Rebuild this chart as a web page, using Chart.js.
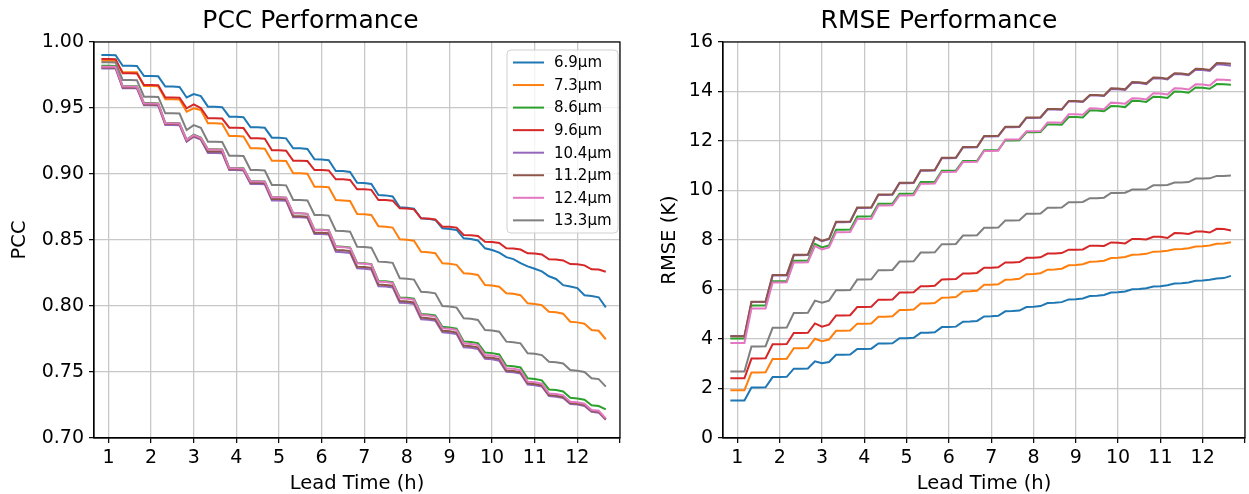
<!DOCTYPE html>
<html>
<head>
<meta charset="utf-8">
<script src="https://cdn.jsdelivr.net/npm/chart.js@4.4.0/dist/chart.umd.min.js"></script>
<style>
  html, body { margin:0; padding:0; background:#fff; overflow:hidden; }
  #pcc { position:absolute; left:0; top:0; }
  #rmse { position:absolute; left:629px; top:0; }
</style>
</head>
<body>
<canvas id="pcc" width="624" height="494"></canvas>
<canvas id="rmse" width="620" height="494"></canvas>
<script>
// lead time of every sample, in minutes
const leadMinutes = [50,60,70,80,90,100,110,120,130,140,150,160,170,180,190,200,210,220,230,240,250,260,270,280,
  290,300,310,320,330,340,350,360,370,380,390,400,410,420,430,440,450,460,470,480,490,500,510,520,
  530,540,550,560,570,580,590,600,610,620,630,640,650,660,670,680,690,700,710,720,730,740,750,760];

const bandLabels = ["6.9µm","7.3µm","8.6µm","9.6µm","10.4µm","11.2µm","12.4µm","13.3µm"];
const bandColors = ["#1f77b4","#ff7f0e","#2ca02c","#d62728","#9467bd","#8c564b","#e377c2","#7f7f7f"];

// PCC per band
const pcc69 = [.9902,.9902,.9900,.9820,.9820,.9818,.9742,.9742,.9740,.9662,.9662,.9660,.9580,.9606,.9590,.9510,.9510,.9506,
  .9434,.9434,.9430,.9354,.9354,.9350,.9275,.9275,.9270,.9195,.9195,.9190,.9111,.9110,.9105,.9023,.9022,.9015,
  .8934,.8932,.8925,.8841,.8838,.8830,.8748,.8745,.8738,.8664,.8660,.8652,.8589,.8584,.8576,.8513,.8507,.8497,
  .8437,.8424,.8405,.8370,.8355,.8325,.8300,.8282,.8262,.8225,.8205,.8158,.8148,.8136,.8082,.8076,.8066,.7990];
const pcc73 = [.9858,.9858,.9857,.9771,.9771,.9770,.9667,.9667,.9665,.9566,.9566,.9564,.9472,.9498,.9485,.9384,.9384,.9381,
  .9288,.9288,.9285,.9195,.9195,.9192,.9101,.9101,.9098,.9005,.9005,.9002,.8904,.8904,.8900,.8803,.8800,.8795,
  .8697,.8695,.8690,.8604,.8600,.8594,.8505,.8502,.8495,.8411,.8408,.8400,.8323,.8320,.8312,.8248,.8244,.8235,
  .8159,.8155,.8146,.8096,.8092,.8082,.8020,.8016,.8006,.7957,.7952,.7942,.7881,.7876,.7866,.7818,.7812,.7748];
const pcc86 = [.9820,.9820,.9819,.9665,.9665,.9664,.9537,.9537,.9535,.9387,.9387,.9385,.9261,.9298,.9276,.9187,.9187,.9185,
  .9046,.9046,.9043,.8946,.8946,.8943,.8823,.8823,.8820,.8702,.8702,.8698,.8578,.8578,.8574,.8452,.8449,.8443,
  .8326,.8323,.8317,.8190,.8187,.8181,.8065,.8062,.8055,.7940,.7936,.7928,.7842,.7838,.7829,.7732,.7728,.7719,
  .7647,.7643,.7633,.7548,.7544,.7534,.7452,.7447,.7437,.7368,.7363,.7353,.7305,.7300,.7290,.7248,.7242,.7217];
const pcc96 = [.9871,.9871,.9870,.9763,.9763,.9762,.9674,.9674,.9672,.9580,.9580,.9578,.9498,.9528,.9500,.9422,.9422,.9420,
  .9351,.9351,.9348,.9270,.9270,.9267,.9180,.9180,.9177,.9101,.9101,.9098,.9030,.9030,.9027,.8960,.8960,.8955,
  .8884,.8884,.8880,.8803,.8803,.8798,.8740,.8738,.8732,.8664,.8662,.8656,.8601,.8600,.8594,.8538,.8536,.8530,
  .8487,.8485,.8478,.8437,.8435,.8428,.8399,.8397,.8390,.8354,.8352,.8345,.8318,.8316,.8308,.8278,.8276,.8260];
const pcc104 = [.9800,.9800,.9799,.9650,.9650,.9649,.9520,.9520,.9518,.9372,.9372,.9370,.9245,.9282,.9260,.9160,.9160,.9158,
  .9030,.9030,.9027,.8925,.8925,.8922,.8800,.8800,.8797,.8672,.8672,.8668,.8545,.8545,.8541,.8411,.8408,.8402,
  .8285,.8282,.8276,.8150,.8147,.8141,.8025,.8022,.8015,.7900,.7896,.7888,.7800,.7796,.7787,.7688,.7684,.7675,
  .7600,.7596,.7586,.7502,.7498,.7488,.7405,.7400,.7390,.7318,.7313,.7303,.7258,.7253,.7243,.7198,.7192,.7138];
const pcc112 = [.9806,.9806,.9805,.9655,.9655,.9654,.9527,.9527,.9525,.9378,.9378,.9376,.9250,.9288,.9266,.9170,.9170,.9168,
  .9036,.9036,.9033,.8933,.8933,.8930,.8810,.8810,.8807,.8680,.8680,.8676,.8555,.8555,.8551,.8425,.8422,.8416,
  .8298,.8295,.8289,.8163,.8160,.8154,.8037,.8034,.8027,.7912,.7908,.7900,.7812,.7808,.7799,.7700,.7696,.7687,
  .7612,.7608,.7598,.7512,.7508,.7498,.7414,.7409,.7399,.7326,.7321,.7311,.7265,.7260,.7250,.7204,.7198,.7142];
const pcc124 = [.9813,.9813,.9812,.9662,.9662,.9661,.9535,.9535,.9533,.9384,.9384,.9382,.9258,.9295,.9273,.9185,.9185,.9183,
  .9043,.9043,.9040,.8944,.8944,.8941,.8823,.8823,.8820,.8702,.8702,.8698,.8576,.8576,.8572,.8449,.8446,.8440,
  .8323,.8320,.8314,.8184,.8181,.8175,.8058,.8055,.8048,.7932,.7928,.7920,.7831,.7827,.7818,.7717,.7713,.7704,
  .7629,.7625,.7615,.7528,.7524,.7514,.7427,.7422,.7412,.7338,.7333,.7323,.7275,.7270,.7260,.7212,.7206,.7149];
const pcc133 = [.9846,.9846,.9845,.9712,.9712,.9711,.9586,.9586,.9584,.9460,.9460,.9458,.9333,.9370,.9350,.9245,.9245,.9243,
  .9139,.9139,.9136,.9030,.9030,.9027,.8917,.8917,.8914,.8803,.8803,.8800,.8689,.8689,.8685,.8570,.8568,.8563,
  .8449,.8447,.8442,.8336,.8333,.8327,.8210,.8207,.8200,.8108,.8104,.8096,.8000,.7996,.7988,.7907,.7903,.7894,
  .7818,.7814,.7805,.7730,.7726,.7717,.7642,.7638,.7628,.7578,.7574,.7564,.7515,.7510,.7500,.7452,.7446,.7389];

// RMSE (K) per band
const rmse69 = [1.52,1.52,1.52,2.04,2.04,2.05,2.46,2.46,2.47,2.80,2.80,2.81,3.10,3.02,3.07,3.36,3.36,3.37,
  3.60,3.60,3.61,3.82,3.82,3.83,4.03,4.03,4.05,4.25,4.25,4.27,4.48,4.48,4.50,4.70,4.71,4.73,
  4.91,4.92,4.94,5.12,5.13,5.15,5.29,5.30,5.33,5.45,5.46,5.49,5.60,5.61,5.64,5.74,5.75,5.78,
  5.88,5.89,5.92,6.01,6.02,6.05,6.12,6.13,6.17,6.24,6.25,6.28,6.35,6.36,6.39,6.44,6.46,6.55];
const rmse73 = [1.93,1.93,1.93,2.65,2.65,2.66,3.19,3.19,3.20,3.63,3.63,3.64,4.01,3.91,3.98,4.33,4.33,4.34,
  4.62,4.62,4.63,4.90,4.90,4.92,5.17,5.17,5.19,5.43,5.43,5.45,5.67,5.68,5.70,5.92,5.93,5.95,
  6.19,6.19,6.21,6.39,6.40,6.43,6.62,6.63,6.66,6.80,6.81,6.84,6.98,6.99,7.02,7.12,7.13,7.16,
  7.27,7.28,7.31,7.40,7.41,7.44,7.53,7.54,7.57,7.63,7.64,7.67,7.74,7.75,7.78,7.85,7.86,7.91];
const rmse86 = [4.02,4.02,4.02,5.35,5.35,5.35,6.33,6.33,6.34,7.16,7.16,7.17,7.84,7.70,7.78,8.41,8.41,8.42,
  8.95,8.95,8.96,9.46,9.46,9.47,9.87,9.87,9.88,10.34,10.34,10.35,10.80,10.80,10.81,11.19,11.19,11.20,
  11.63,11.63,11.64,12.02,12.02,12.03,12.35,12.35,12.36,12.67,12.67,12.66,12.97,12.97,12.95,13.24,13.23,13.20,
  13.41,13.40,13.37,13.63,13.62,13.58,13.79,13.78,13.74,14.00,13.99,13.95,14.16,14.15,14.11,14.30,14.29,14.27];
const rmse96 = [2.41,2.41,2.41,3.21,3.21,3.22,3.79,3.79,3.80,4.24,4.24,4.25,4.63,4.50,4.58,4.95,4.95,4.96,
  5.29,5.29,5.30,5.59,5.59,5.60,5.88,5.88,5.89,6.13,6.13,6.15,6.40,6.41,6.42,6.65,6.65,6.67,
  6.88,6.88,6.90,7.09,7.09,7.11,7.28,7.28,7.30,7.45,7.45,7.47,7.61,7.61,7.62,7.77,7.77,7.76,
  7.90,7.89,7.86,8.04,8.04,8.02,8.13,8.13,8.08,8.28,8.27,8.24,8.34,8.34,8.30,8.45,8.44,8.38];
const rmse104 = [4.12,4.12,4.12,5.50,5.50,5.50,6.57,6.57,6.57,7.38,7.38,7.39,8.09,7.95,8.03,8.72,8.72,8.73,
  9.29,9.29,9.30,9.82,9.82,9.83,10.29,10.29,10.30,10.80,10.80,10.81,11.30,11.30,11.31,11.74,11.74,11.75,
  12.18,12.18,12.19,12.56,12.56,12.57,12.93,12.93,12.94,13.27,13.27,13.26,13.60,13.60,13.58,13.84,13.84,13.82,
  14.10,14.09,14.06,14.35,14.34,14.30,14.54,14.53,14.49,14.71,14.70,14.66,14.88,14.87,14.83,15.10,15.08,15.04];
const rmse112 = [4.11,4.11,4.11,5.51,5.51,5.51,6.59,6.59,6.59,7.40,7.40,7.41,8.11,7.97,8.05,8.74,8.74,8.75,
  9.31,9.31,9.32,9.84,9.84,9.85,10.31,10.31,10.32,10.82,10.82,10.83,11.32,11.32,11.33,11.76,11.76,11.77,
  12.20,12.20,12.21,12.58,12.58,12.59,12.95,12.95,12.96,13.29,13.29,13.28,13.62,13.62,13.60,13.86,13.86,13.84,
  14.13,14.12,14.09,14.38,14.37,14.33,14.57,14.56,14.52,14.74,14.73,14.69,14.92,14.91,14.87,15.15,15.14,15.12];
const rmse124 = [3.84,3.84,3.84,5.23,5.23,5.23,6.28,6.28,6.29,7.09,7.09,7.10,7.75,7.62,7.70,8.31,8.31,8.32,
  8.85,8.85,8.86,9.39,9.39,9.40,9.80,9.80,9.81,10.27,10.27,10.28,10.75,10.75,10.76,11.15,11.15,11.16,
  11.60,11.60,11.61,12.06,12.06,12.07,12.39,12.39,12.40,12.75,12.75,12.74,13.08,13.08,13.06,13.32,13.31,13.28,
  13.55,13.54,13.51,13.73,13.72,13.68,13.93,13.92,13.88,14.13,14.12,14.08,14.29,14.28,14.24,14.48,14.47,14.45];
const rmse133 = [2.69,2.69,2.69,3.70,3.70,3.71,4.45,4.45,4.46,5.05,5.05,5.06,5.55,5.47,5.55,5.97,5.97,5.98,
  6.40,6.40,6.41,6.78,6.78,6.79,7.13,7.13,7.14,7.49,7.49,7.50,7.83,7.83,7.84,8.18,8.18,8.19,
  8.49,8.49,8.50,8.79,8.79,8.80,9.06,9.06,9.07,9.30,9.30,9.31,9.53,9.53,9.54,9.69,9.69,9.71,
  9.90,9.90,9.91,10.04,10.04,10.05,10.21,10.21,10.22,10.32,10.32,10.34,10.48,10.48,10.49,10.59,10.59,10.61];

const pccSeries = [pcc69, pcc73, pcc86, pcc96, pcc104, pcc112, pcc124, pcc133];
const rmseSeries = [rmse69, rmse73, rmse86, rmse96, rmse104, rmse112, rmse124, rmse133];

Chart.defaults.font.family = "'DejaVu Sans', sans-serif";
Chart.defaults.color = "#000";

const gridColor = "#c8c8c8";

function makeSets(series) {
  return series.map((vals, i) => ({
    label: bandLabels[i],
    data: vals.map((v, k) => ({ x: leadMinutes[k] / 60, y: v })),
    borderColor: bandColors[i],
    backgroundColor: bandColors[i],
    borderWidth: 2,
    pointRadius: 0,
    tension: 0,
    fill: false,
    order: series.length - 1 - i   // later bands on top, like matplotlib
  }));
}

// black box round the plot area
const framePlugin = {
  id: "frame",
  afterDatasetsDraw(chart) {
    const a = chart.chartArea, ctx = chart.ctx;
    ctx.save();
    ctx.strokeStyle = "#000";
    ctx.lineWidth = 1.2;
    ctx.strokeRect(a.left, a.top, a.right - a.left, a.bottom - a.top);
    ctx.restore();
  }
};

// legend box inside the PCC plot, upper right
const boxLegend = {
  id: "boxLegend",
  afterDraw(chart) {
    const ctx = chart.ctx, a = chart.chartArea;
    const x0 = a.right - 113, y0 = a.top + 8, w = 111, h = 183, r = 4;
    ctx.save();
    ctx.beginPath();
    ctx.moveTo(x0 + r, y0);
    ctx.arcTo(x0 + w, y0, x0 + w, y0 + h, r);
    ctx.arcTo(x0 + w, y0 + h, x0, y0 + h, r);
    ctx.arcTo(x0, y0 + h, x0, y0, r);
    ctx.arcTo(x0, y0, x0 + w, y0, r);
    ctx.closePath();
    ctx.fillStyle = "rgba(255,255,255,0.8)";
    ctx.fill();
    ctx.strokeStyle = "#d0d0d0";
    ctx.lineWidth = 1;
    ctx.stroke();
    ctx.font = "15px 'DejaVu Sans'";
    ctx.textBaseline = "middle";
    ctx.textAlign = "left";
    chart.data.datasets.forEach((ds, i) => {
      const yy = y0 + 12.5 + i * 22.55;
      ctx.strokeStyle = ds.borderColor;
      ctx.lineWidth = 2;
      ctx.beginPath();
      ctx.moveTo(x0 + 6, yy);
      ctx.lineTo(x0 + 37, yy);
      ctx.stroke();
      ctx.fillStyle = "#000";
      ctx.fillText(ds.label, x0 + 47, yy + 1);
    });
    ctx.restore();
  }
};

function makeOptions(o) {
  return {
    responsive: false,
    animation: false,
    layout: { padding: { left: 0, right: o.padRight, top: 0, bottom: 0 } },
    plugins: {
      legend: { display: false },
      tooltip: { enabled: false },
      title: {
        display: true, text: o.title, color: "#000",
        font: { size: 25, weight: "normal" },
        padding: { top: 6, bottom: 6 }
      }
    },
    scales: {
      x: {
        type: "linear", min: 0.66, max: 13,
        afterFit: (s) => { s.height = 56; },
        ticks: {
          stepSize: 1, includeBounds: false, autoSkip: false, maxRotation: 0,
          color: "#000", font: { size: 19 }, padding: 4,
          callback: (v) => (v <= 12 ? v : "")
        },
        grid: { color: gridColor, lineWidth: 1.3, tickLength: 5, tickColor: "#000", tickWidth: 1.2 },
        border: { color: "#000", width: 1.2 },
        title: {
          display: true, text: "Lead Time (h)", color: "#000",
          font: { size: 19.5, lineHeight: 1 }, padding: { top: 0, bottom: 0 }
        }
      },
      y: {
        min: o.ymin, max: o.ymax,
        afterFit: (s) => { s.width = 94; },
        ticks: {
          stepSize: o.step, includeBounds: false, color: "#000", font: { size: 19 }, padding: 5,
          callback: o.fmt
        },
        grid: { color: gridColor, lineWidth: 1.3, tickLength: 5, tickColor: "#000", tickWidth: 1.2 },
        border: { color: "#000", width: 1.2 },
        title: {
          display: true, text: o.ytitle, color: "#000",
          font: { size: 19.5, lineHeight: 1 }, padding: { top: o.ytitlePad, bottom: 0 }
        }
      }
    }
  };
}

new Chart(document.getElementById("pcc"), {
  type: "line",
  data: { datasets: makeSets(pccSeries) },
  options: makeOptions({
    title: "PCC Performance", ytitle: "PCC", ymin: 0.70, ymax: 1.00, step: 0.05,
    fmt: (v) => Number(v).toFixed(2), padRight: 3, ytitlePad: 10
  }),
  plugins: [framePlugin, boxLegend]
});

new Chart(document.getElementById("rmse"), {
  type: "line",
  data: { datasets: makeSets(rmseSeries) },
  options: makeOptions({
    title: "RMSE Performance", ytitle: "RMSE (K)", ymin: 0, ymax: 16, step: 2,
    fmt: (v) => v, padRight: 0, ytitlePad: 31
  }),
  plugins: [framePlugin]
});
</script>
</body>
</html>
